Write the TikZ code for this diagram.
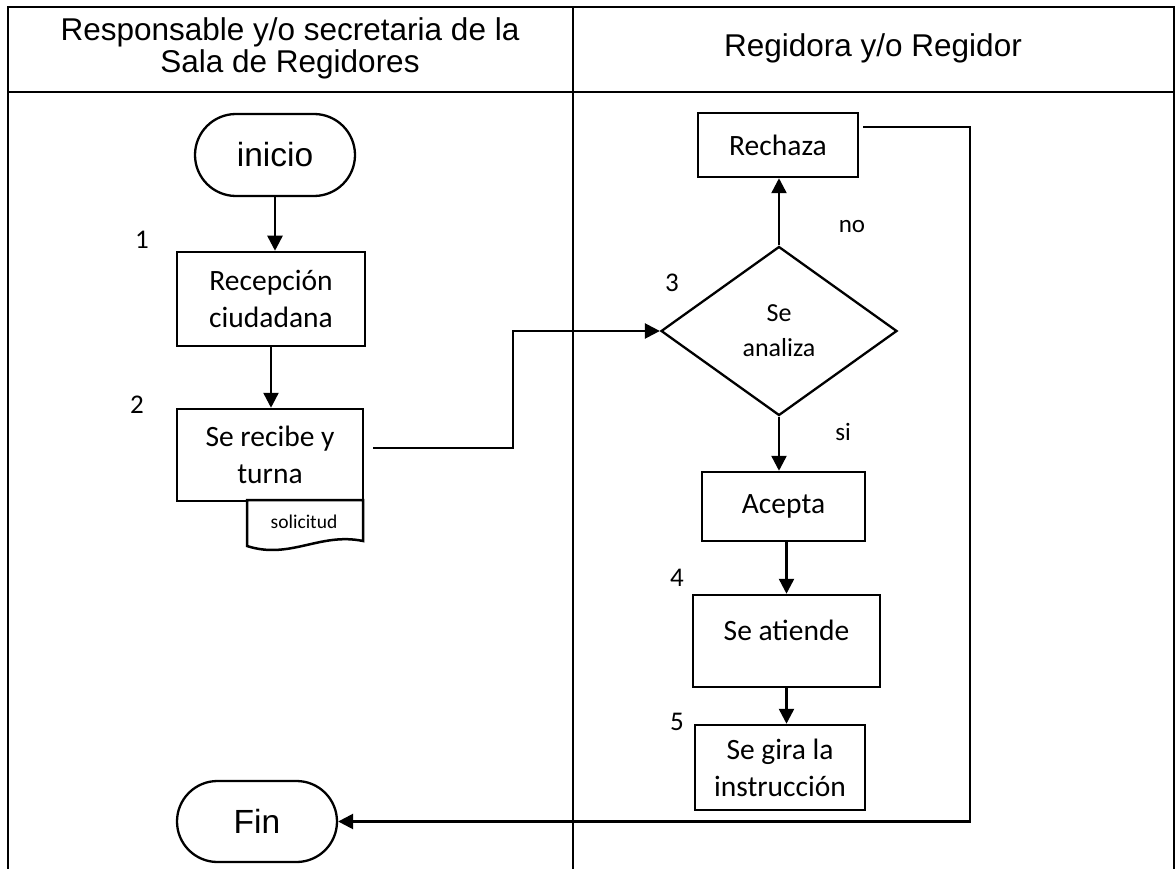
\documentclass[tikz,border=0pt]{standalone}
\usepackage{fontspec}
\setmainfont{Carlito}
\newfontfamily\arialf{Liberation Sans}
\usetikzlibrary{shapes.misc,shapes.geometric,arrows.meta}
\tikzset{
  tbl/.style={line width=1.4pt},
  box/.style={draw, rectangle, line width=2.5pt, inner sep=0pt, align=center,
    font=\fontsize{29.5}{37}\selectfont},
  term/.style={draw, rounded rectangle, line width=2.3pt, inner sep=0pt,
    font=\arialf\fontsize{33.5}{38}\selectfont},
  dia/.style={draw, diamond, line width=2.3pt, inner sep=0pt, align=center,
    font=\fontsize{26}{35}\selectfont},
  num/.style={font=\fontsize{27}{28}\selectfont},
  lbl/.style={font=\fontsize{25}{28}\selectfont},
  arr/.style={line width=2.5pt, -{Triangle[length=15pt,width=15pt]}},
  hdr/.style={align=center, font=\arialf\fontsize{31.5}{32}\selectfont}
}
\begin{document}
\begin{tikzpicture}[x=1pt,y=-1pt]
\useasboundingbox (0,0) rectangle (1176,869);
% table
\draw[tbl] (8,869) -- (8,7) -- (1174,7) -- (1174,869);
\draw[tbl] (8,92) -- (1174,92);
\draw[tbl] (573,7) -- (573,869);
\node[hdr] (h1) at (290,48) {Responsable y/o secretaria de la\\Sala de Regidores};
\node[hdr] (h2) at (873,48) {Regidora y/o Regidor};
% left lane
\node[term, minimum width=160pt, minimum height=82pt] (ini) at (275,155) {inicio};
\node[box, minimum width=188pt, minimum height=94pt] (rec) at (271,299) {Recepción\\ciudadana};
\node[box, minimum width=186pt, minimum height=92pt] (tur) at (270,455) {Se recibe y\\turna};
\node[term, minimum width=160pt, minimum height=81pt] (fin) at (257,821.5) {Fin};
\node[num] (n1) at (142,240) {1};
\node[num] (n2) at (137,405) {2};
\draw[line width=2.5pt, fill=white] (247,500) -- (363,500) -- (363,541)
  .. controls (320,532) and (290,560) .. (247,546) -- cycle;
\node[font=\fontsize{19.5}{20}\selectfont] (sol) at (304,522) {solicitud};
\draw[arr] (ini.south) -- (ini.south |- rec.north);
\draw[arr] (rec.south) -- (rec.south |- tur.north);
% right lane
\node[dia, minimum width=236pt, minimum height=169pt] (ana) at (779,331) {Se\\analiza};
\node[box, minimum width=160pt, minimum height=64pt] (rech) at (778,145) {Rechaza};
\node[box, minimum width=163pt, minimum height=69pt] (acep) at (783.5,506.5) {Acepta};
\node[box, minimum width=187pt, minimum height=92pt] (aten) at (786.5,641) {};
\node[font=\fontsize{29.5}{37}\selectfont] (atxt) at (786.5,630) {Se atiende};
\node[box, minimum width=170pt, minimum height=85pt] (gira) at (780,767.5) {Se gira la\\instrucción};
\node[num] (n3) at (672,283) {3};
\node[num] (n4) at (677,578) {4};
\node[num] (n5) at (677,722) {5};
\node[lbl] (no) at (852,227) {no};
\node[lbl] (si) at (843,432) {si};
\coordinate (t1) at (373,448);
\coordinate (t2) at (513,448);
\draw[arr] (t1) -- (t2) |- (ana.west);
\draw[arr] (ana.north) -- (ana.north |- rech.south);
\draw[arr] (ana.south) -- (ana.south |- acep.north);
\draw[arr] (aten.north |- acep.south) -- (aten.north);
\draw[arr] (aten.south) -- (aten.south |- gira.north);
\coordinate (r1) at (863,127);
\coordinate (r2) at (970,127);
\draw[arr] (r1) -- (r2) |- (fin.east);
\end{tikzpicture}
\end{document}
